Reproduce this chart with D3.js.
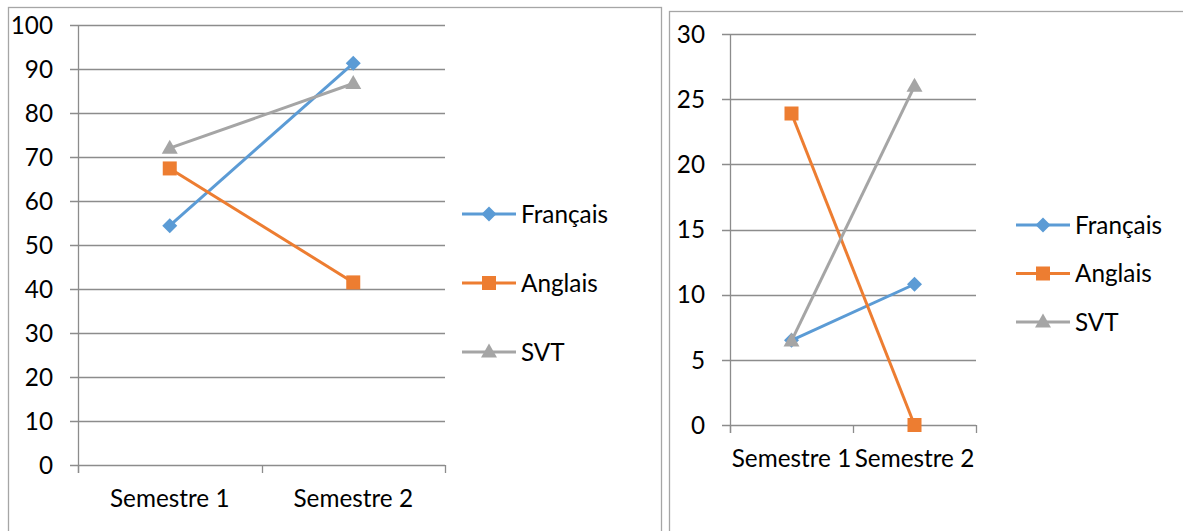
<!DOCTYPE html>
<html>
<head>
<meta charset="utf-8">
<script src="https://cdn.jsdelivr.net/npm/d3@7"></script>
<style>
  body { margin: 0; background: #fff; }
  svg { display: block; }
  text { font-family: Lato, "Open Sans", sans-serif; fill: #000; }
</style>
</head>
<body>
<svg id="chart" width="1183" height="531"></svg>
<script>
var categories = ["Semestre 1", "Semestre 2"];
var seriesNames = ["Français", "Anglais", "SVT"];
var colors = ["#5b9bd5", "#ed7d31", "#a5a5a5"];
var markers = ["diamond", "square", "triangle"];

// graphique de gauche
var leftFrancais = [54.4, 91.3];
var leftAnglais = [67.4, 41.5];
var leftSvt = [72.0, 86.7];
var leftTicks = [0, 10, 20, 30, 40, 50, 60, 70, 80, 90, 100];

// graphique de droite
var rightFrancais = [6.5, 10.8];
var rightAnglais = [23.9, 0];
var rightSvt = [6.45, 26.0];
var rightTicks = [0, 5, 10, 15, 20, 25, 30];

var fontSize = 24.3;
var svg = d3.select("#chart");

var drawChart = function (cfg) {
    var g = svg.append("g");

    // cadre
    g.append("rect")
        .attr("x", cfg.frame[0] + 0.5)
        .attr("y", cfg.frame[1] + 0.5)
        .attr("width", cfg.frame[2])
        .attr("height", cfg.frame[3])
        .attr("fill", "none")
        .attr("stroke", "#a6a6a6")
        .attr("stroke-width", 1.3);

    var x = d3.scaleBand().domain(categories).range([cfg.x0, cfg.x1]);
    var y = d3.scaleLinear().domain([0, d3.max(cfg.ticks)]).range([cfg.y0, cfg.y1]);

    // grille
    g.selectAll(".grid")
        .data(cfg.ticks)
        .enter()
        .append("line")
        .attr("x1", cfg.x0 - 8)
        .attr("x2", cfg.x1)
        .attr("y1", function (d) { return Math.round(y(d)) + 0.5; })
        .attr("y2", function (d) { return Math.round(y(d)) + 0.5; })
        .attr("stroke", "#8c8c8c")
        .attr("stroke-width", 1.3);

    // axe vertical
    g.append("line")
        .attr("x1", cfg.x0 + 0.5).attr("x2", cfg.x0 + 0.5)
        .attr("y1", cfg.y1).attr("y2", cfg.y0 + 8)
        .attr("stroke", "#8c8c8c")
        .attr("stroke-width", 1.3);

    // graduations de l'axe x
    var edges = categories.map(function (c) { return x(c); }).concat([cfg.x1]);
    g.selectAll(".xtick")
        .data(edges)
        .enter()
        .append("line")
        .attr("x1", function (d) { return Math.round(d) + 0.5; })
        .attr("x2", function (d) { return Math.round(d) + 0.5; })
        .attr("y1", cfg.y0)
        .attr("y2", cfg.y0 + 8)
        .attr("stroke", "#8c8c8c")
        .attr("stroke-width", 1.3);

    g.selectAll(".ylab")
        .data(cfg.ticks)
        .enter()
        .append("text")
        .attr("x", cfg.x0 - 25)
        .attr("y", function (d) { return y(d); })
        .attr("dy", "0.36em")
        .attr("text-anchor", "end")
        .attr("font-size", fontSize)
        .text(function (d) { return d; });

    g.selectAll(".xlab")
        .data(categories)
        .enter()
        .append("text")
        .attr("x", function (d) { return x(d) + x.bandwidth() / 2; })
        .attr("y", cfg.y0 + 42)
        .attr("text-anchor", "middle")
        .attr("font-size", fontSize)
        .text(function (d) { return d; });

    var line = d3.line()
        .x(function (d, i) { return x(categories[i]) + x.bandwidth() / 2; })
        .y(function (d) { return y(d); });

    cfg.series.forEach(function (values, k) {
        g.append("path")
            .attr("d", line(values))
            .attr("fill", "none")
            .attr("stroke", colors[k])
            .attr("stroke-width", 3);
        values.forEach(function (v, i) {
            drawMarker(g, markers[k], x(categories[i]) + x.bandwidth() / 2, y(v), colors[k]);
        });
    });

    // légende
    seriesNames.forEach(function (name, k) {
        var ly = cfg.legendY + k * cfg.legendGap;
        g.append("line")
            .attr("x1", cfg.legendX).attr("x2", cfg.legendX + 54)
            .attr("y1", ly).attr("y2", ly)
            .attr("stroke", colors[k])
            .attr("stroke-width", 3);
        drawMarker(g, markers[k], cfg.legendX + 27, ly, colors[k]);
        g.append("text")
            .attr("x", cfg.legendX + 59)
            .attr("y", ly)
            .attr("dy", "0.36em")
            .attr("font-size", fontSize)
            .text(name);
    });
};

var drawMarker = function (g, type, cx, cy, color) {
    if (type == "diamond") {
        g.append("path")
            .attr("d", "M" + cx + "," + (cy - 7.5) + "L" + (cx + 7.5) + "," + cy + "L" + cx + "," + (cy + 7.5) + "L" + (cx - 7.5) + "," + cy + "Z")
            .attr("fill", color);
    } else if (type == "square") {
        g.append("rect")
            .attr("x", cx - 7).attr("y", cy - 7)
            .attr("width", 14).attr("height", 14)
            .attr("fill", color);
    } else {
        g.append("path")
            .attr("d", "M" + cx + "," + (cy - 8.5) + "L" + (cx + 8) + "," + (cy + 5.5) + "L" + (cx - 8) + "," + (cy + 5.5) + "Z")
            .attr("fill", color);
    }
};

drawChart({
    frame: [8, 7, 653, 540],
    x0: 78, x1: 445, y0: 465, y1: 25,
    ticks: leftTicks,
    series: [leftFrancais, leftAnglais, leftSvt],
    legendX: 462, legendY: 214, legendGap: 69
});

drawChart({
    frame: [669, 11, 530, 540],
    x0: 730, x1: 976, y0: 425, y1: 34,
    ticks: rightTicks,
    series: [rightFrancais, rightAnglais, rightSvt],
    legendX: 1016, legendY: 225, legendGap: 48.5
});
</script>
</body>
</html>
